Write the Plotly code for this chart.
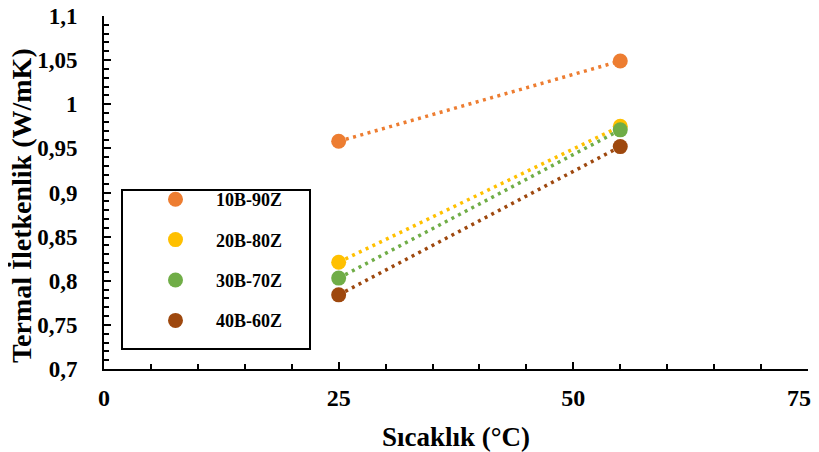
import plotly.graph_objects as go

# Sıcaklık (°C)
temps = [25, 55]
x_ticks = [0, 25, 50, 75]
x_ticklabels = ['0', '25', '50', '75\u00a0\u00a0\u00a0']

series_names = ['10B-90Z', '20B-80Z', '30B-70Z', '40B-60Z']
k_10b_90z = [0.958, 1.049]
k_20b_80z = [0.821, 0.975]
k_30b_70z = [0.803, 0.971]
k_40b_60z = [0.784, 0.952]

colors = ['#ED7D31', '#FFC000', '#70AD47', '#9E480E']

FONT = 'Liberation Serif'

fig = go.Figure()

for i, (name, vals) in enumerate(zip(series_names, [k_10b_90z, k_20b_80z, k_30b_70z, k_40b_60z])):
    color = colors[i]
    # dotted linear trend line
    fig.add_trace(go.Scatter(
        x=temps, y=vals,
        mode='lines',
        line=dict(color=color, width=3.5, dash='3px,4.5px'),
        showlegend=False,
        hoverinfo='skip',
    ))
    fig.add_trace(go.Scatter(
        x=temps, y=vals,
        mode='markers',
        marker=dict(color=color, size=15),
        name=f'<b>{name}</b>',
        legendgroup=f'g{i}',
    ))

axis_common = dict(
    showline=True,
    linecolor='black',
    linewidth=2,
    ticks='inside',
    tickcolor='black',
    tickwidth=1.5,
    showgrid=False,
    zeroline=False,
    mirror=False,
    automargin=False,
    ticklabeloverflow='allow',
)

fig.update_xaxes(
    range=[0, 75],
    tickmode='array', tickvals=x_ticks, ticktext=x_ticklabels,
    ticklen=7,
    ticklabelstandoff=6,
    minor=dict(dtick=5, ticks='inside', ticklen=5, tickcolor='black', tickwidth=1.5),
    tickfont=dict(family=FONT, size=24, color='black', weight='bold'),
    title=dict(text='<b>Sıcaklık (°C)</b>', font=dict(family=FONT, size=27, color='black'), standoff=20),
    **axis_common,
)
fig.update_yaxes(
    range=[0.7, 1.1],
    tick0=0.7, dtick=0.05,
    ticklen=7,
    ticklabelstandoff=20,
    minor=dict(dtick=0.01, ticks='inside', ticklen=5, tickcolor='black', tickwidth=1.5),
    tickfont=dict(family=FONT, size=23, color='black', weight='bold'),
    **axis_common,
)

# y axis title
fig.add_annotation(
    text='<b>Termal İletkenlik (W/mK)</b>',
    xref='paper', yref='paper',
    x=-(104 - 22) / 704, y=(369 - 206) / 353,
    xanchor='center', yanchor='middle',
    textangle=-90, showarrow=False,
    font=dict(family=FONT, size=28, color='black'),
)

# legend frame
fig.add_shape(
    type='rect', xref='paper', yref='paper',
    x0=(122 - 104) / 704, x1=(310 - 104) / 704,
    y0=(369 - 349) / 353, y1=(369 - 190) / 353,
    line=dict(color='black', width=2),
    fillcolor='rgba(0,0,0,0)',
)

# the page body adds an 8px offset, so the figure is drawn 8px smaller
fig.update_layout(
    width=811, height=444,
    margin=dict(l=96, r=11, t=8, b=83),
    paper_bgcolor='white',
    plot_bgcolor='white',
    separators=', ',
    font=dict(family=FONT, color='black'),
    legend=dict(
        x=(135 - 104) / 704, y=(369 - 181) / 353,
        xanchor='left', yanchor='top',
        bgcolor='rgba(0,0,0,0)',
        borderwidth=0,
        itemwidth=71,
        tracegroupgap=14,
        font=dict(family=FONT, size=18, color='black'),
    ),
    showlegend=True,
)

fig.write_html('out.html')
